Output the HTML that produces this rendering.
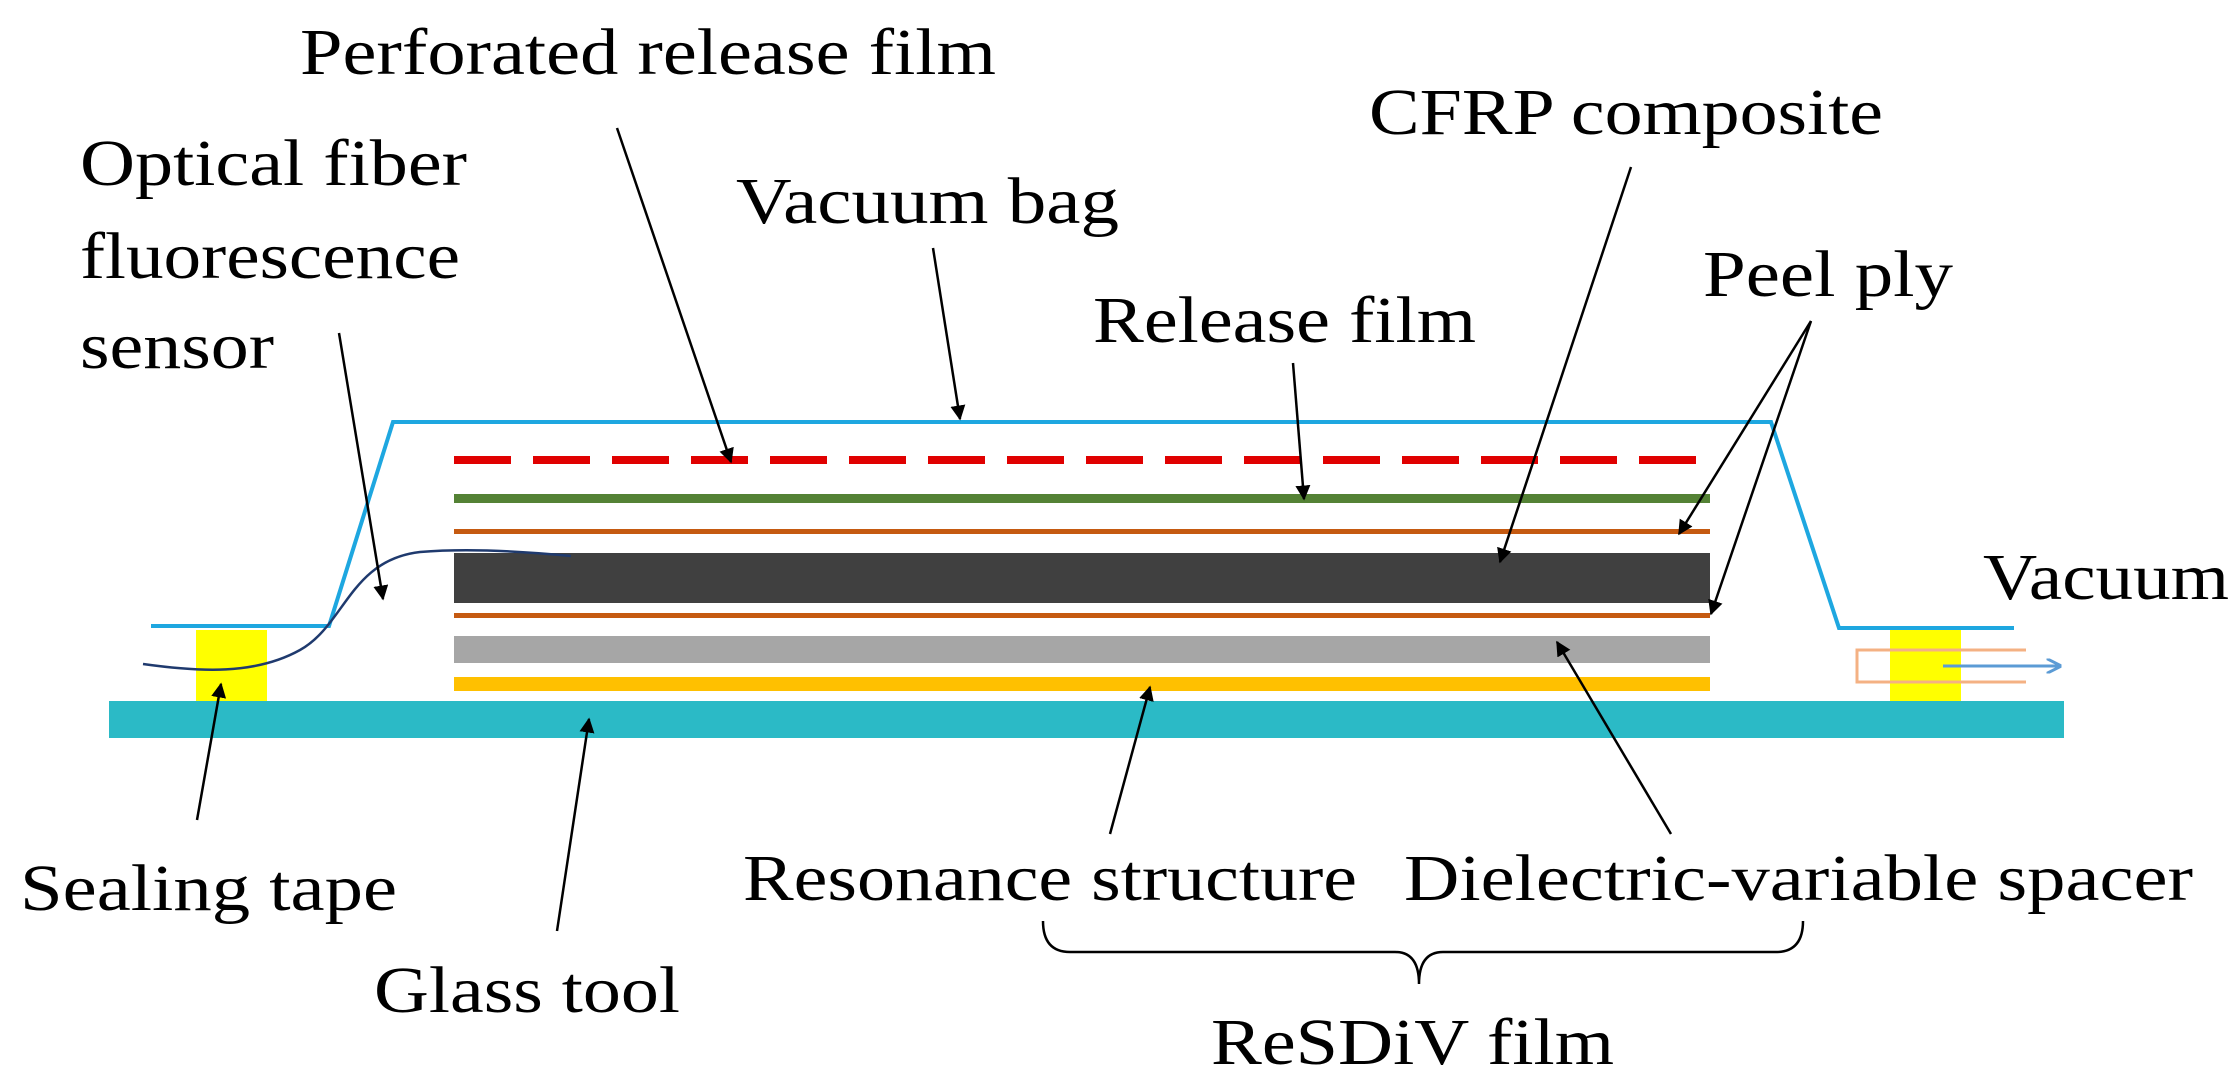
<!DOCTYPE html>
<html><head><meta charset="utf-8"><style>
html,body{margin:0;padding:0;background:#fff;}
svg{display:block;}
text{font-family:"Liberation Serif",serif;font-size:66px;fill:#000;}
</style></head><body>
<svg width="2233" height="1091" viewBox="0 0 2233 1091" xmlns="http://www.w3.org/2000/svg">
<defs>
<marker id="ah" viewBox="0 0 10 10" refX="9" refY="5" markerWidth="6" markerHeight="6" orient="auto-start-reverse">
<path d="M0,0 L10,5 L0,10 z" fill="#000"/></marker>
<marker id="bh" viewBox="0 0 10 10" refX="9" refY="5" markerWidth="5" markerHeight="5" orient="auto">
<path d="M0,0 L10,5 L0,10" fill="none" stroke="#5b9bd5" stroke-width="2"/></marker>
</defs>
<rect x="109" y="701" width="1955" height="37" fill="#2bbac6"/>
<rect x="196" y="630" width="71" height="71" fill="#ffff00"/>
<rect x="1890" y="630" width="71" height="71" fill="#ffff00"/>
<rect x="454" y="677" width="1256" height="14" fill="#ffc000"/>
<rect x="454" y="636" width="1256" height="27" fill="#a6a6a6"/>
<rect x="454" y="613" width="1256" height="5" fill="#c55a11"/>
<rect x="454" y="553" width="1256" height="50" fill="#404040"/>
<rect x="454" y="529" width="1256" height="5" fill="#c55a11"/>
<rect x="454" y="494" width="1256" height="9" fill="#548235"/>
<line x1="454" y1="460" x2="1710" y2="460" stroke="#e00000" stroke-width="8" stroke-dasharray="57 22"/>
<polyline points="151,626 329,626 393,422 1771,422 1839,628 2014,628" fill="none" stroke="#1ea7e0" stroke-width="4"/>
<path d="M2026,650 L1857,650 L1857,682 L2026,682" fill="none" stroke="#f4b183" stroke-width="3"/>
<line x1="1943" y1="666" x2="2060" y2="666" stroke="#5b9bd5" stroke-width="3" marker-end="url(#bh)"/>
<path d="M143,664 C200,672 255,675 300,650 C345,625 350,560 420,552 C470,548 530,552 571,556" fill="none" stroke="#1f3a6e" stroke-width="2.5"/>
<g stroke="#000" stroke-width="2.5" fill="none">
<line x1="617" y1="128" x2="731" y2="462" marker-end="url(#ah)"/>
<line x1="339" y1="333" x2="383" y2="599" marker-end="url(#ah)"/>
<line x1="933" y1="248" x2="960" y2="419" marker-end="url(#ah)"/>
<line x1="1293" y1="363" x2="1304" y2="499" marker-end="url(#ah)"/>
<line x1="1631" y1="167" x2="1500" y2="562" marker-end="url(#ah)"/>
<line x1="1811" y1="321" x2="1679" y2="534" marker-end="url(#ah)"/>
<line x1="1811" y1="321" x2="1711" y2="614" marker-end="url(#ah)"/>
<line x1="197" y1="820" x2="221" y2="684" marker-end="url(#ah)"/>
<line x1="557" y1="931" x2="589" y2="719" marker-end="url(#ah)"/>
<line x1="1110" y1="834" x2="1150" y2="687" marker-end="url(#ah)"/>
<line x1="1671" y1="834" x2="1557" y2="642" marker-end="url(#ah)"/>
<path d="M1043,921 Q1043,952 1070,952 L1395,952 Q1419,952 1419,984 Q1419,952 1443,952 L1776,952 Q1803,952 1803,921" stroke-width="2.5"/>
</g>
<g lengthAdjust="spacingAndGlyphs">
<text x="300" y="74" textLength="696" lengthAdjust="spacingAndGlyphs">Perforated release film</text>
<text x="80" y="185" textLength="387" lengthAdjust="spacingAndGlyphs">Optical fiber</text>
<text x="80" y="278" textLength="380" lengthAdjust="spacingAndGlyphs">fluorescence</text>
<text x="80" y="368" textLength="194" lengthAdjust="spacingAndGlyphs">sensor</text>
<text x="736" y="223" textLength="383" lengthAdjust="spacingAndGlyphs">Vacuum bag</text>
<text x="1369" y="134" textLength="514" lengthAdjust="spacingAndGlyphs">CFRP composite</text>
<text x="1093" y="342" textLength="383" lengthAdjust="spacingAndGlyphs">Release film</text>
<text x="1703" y="296" textLength="250" lengthAdjust="spacingAndGlyphs">Peel ply</text>
<text x="1983" y="599" textLength="246" lengthAdjust="spacingAndGlyphs">Vacuum</text>
<text x="20" y="910" textLength="377" lengthAdjust="spacingAndGlyphs">Sealing tape</text>
<text x="374" y="1012" textLength="306" lengthAdjust="spacingAndGlyphs">Glass tool</text>
<text x="743" y="900" textLength="614" lengthAdjust="spacingAndGlyphs">Resonance structure</text>
<text x="1404" y="900" textLength="789" lengthAdjust="spacingAndGlyphs">Dielectric-variable spacer</text>
<text x="1211" y="1064" textLength="403" lengthAdjust="spacingAndGlyphs">ReSDiV film</text>
</g>
</svg>
</body></html>
